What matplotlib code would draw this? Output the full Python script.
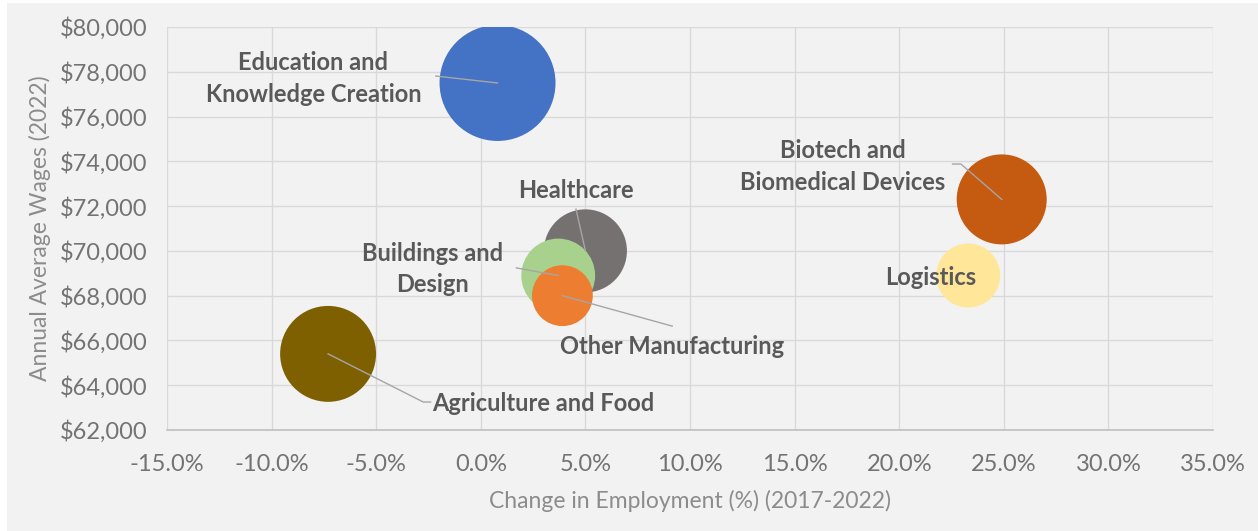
import matplotlib
matplotlib.use("Agg")
import matplotlib.pyplot as plt
from matplotlib.patches import Rectangle
from matplotlib.ticker import FuncFormatter, MultipleLocator


# cluster data
clusters = ['Healthcare', 'Buildings and\nDesign', 'Other Manufacturing',
            'Education and\nKnowledge Creation', 'Biotech and\nBiomedical Devices',
            'Logistics', 'Agriculture and Food']
emp_change = [5.0, 3.7, 3.9, 0.8, 24.9, 23.3, -7.3]
avg_wages = [70000, 68900, 68000, 77500, 72300, 68900, 65400]
bubble_size = [6900, 5450, 3700, 13450, 8100, 4100, 9200]
colors = ['#767171', '#A9D18E', '#ED7D31', '#4472C4', '#C55A11', '#FFE699', '#7F6000']

# label placement (data coords) and leader line points
label_pos = [(4.55, 72700), (-2.3, 69190), (9.15, 65750), (-8.0, 77720),
             (17.3, 73790), (21.5, 68830), (3.0, 63200)]
leader_pts = [[(4.55, 71870)],
              [(1.7, 69240)],
              [(9.15, 66640)],
              [(-2.15, 77810)],
              [(22.95, 73880), (22.55, 73880)],
              [],
              [(-2.75, 63250), (-2.4, 63250)]]

TEXT_GRAY = '#595959'
BG = '#F2F2F2'

plt.rcParams['font.family'] = ['Lato', 'DejaVu Sans']

fig = plt.figure(figsize=(12.58, 5.31), dpi=100, facecolor='white')
fig.patches.append(Rectangle((7 / 1258, 0), 1, 1 - 3 / 531, transform=fig.transFigure,
                             facecolor=BG, edgecolor='none', zorder=-10))
ax = fig.add_axes([167 / 1258, 1 - 430 / 531, (1213 - 167) / 1258, (430 - 27) / 531])
ax.set_facecolor(BG)

px = 72 / fig.dpi
ax.scatter(emp_change, avg_wages, s=[b * px ** 2 for b in bubble_size],
           c=colors, edgecolors='none', zorder=3)

for i, name in enumerate(clusters):
    lx, ly = label_pos[i]
    ax.text(lx, ly, name, ha='center', va='center', fontsize=17,
            fontweight='bold', color=TEXT_GRAY, linespacing=1.47, zorder=5)
    if leader_pts[i]:
        xs = [emp_change[i]] + [p[0] for p in leader_pts[i]]
        ys = [avg_wages[i]] + [p[1] for p in leader_pts[i]]
        ax.plot(xs, ys, color='#A6A6A6', lw=1.0, zorder=4)

ax.set_xlim(-15, 35)
ax.set_ylim(62000, 80000)
ax.xaxis.set_major_locator(MultipleLocator(5))
ax.yaxis.set_major_locator(MultipleLocator(2000))
ax.xaxis.set_major_formatter(FuncFormatter(lambda v, p: f'{v:.1f}%'))
ax.yaxis.set_major_formatter(FuncFormatter(lambda v, p: f'${v:,.0f}'))

ax.grid(True, color='#D9D9D9', lw=1.0, zorder=0)
ax.set_axisbelow(True)
for side in ['top', 'right', 'left']:
    ax.spines[side].set_visible(False)
ax.spines['bottom'].set_color('#BFBFBF')
ax.spines['bottom'].set_linewidth(1.2)
ax.tick_params(length=0, labelsize=17, labelcolor='#737373')
ax.tick_params(axis='x', pad=17)
ax.tick_params(axis='y', pad=14)

ax.set_xlabel('Change in Employment (%) (2017-2022)', fontsize=16.5,
              color='#8C8C8C', labelpad=11)
ax.set_ylabel('Annual Average Wages (2022)', fontsize=16.5, color='#8C8C8C',
              labelpad=6)

fig.savefig('out.png', dpi=100, facecolor=fig.get_facecolor())
